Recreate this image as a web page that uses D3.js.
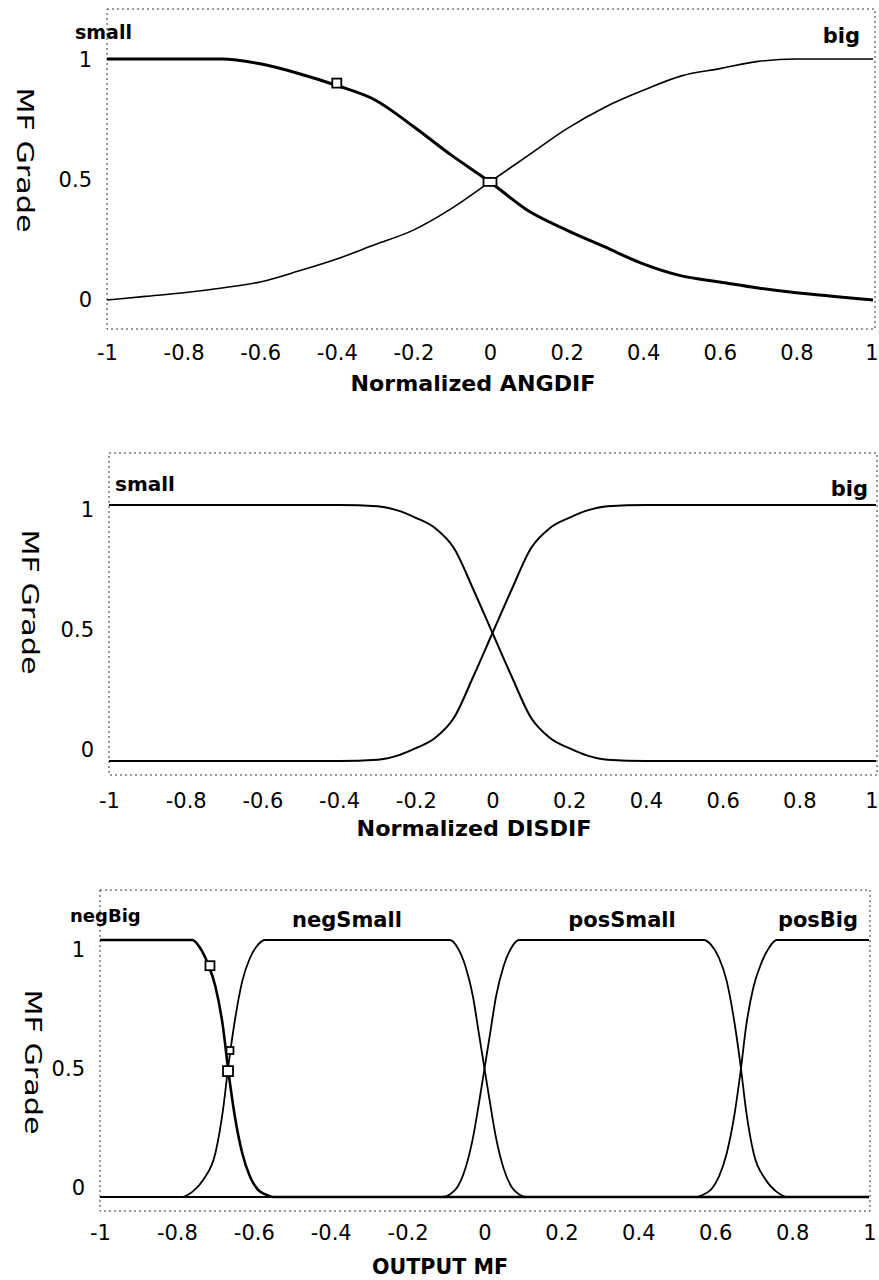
<!DOCTYPE html>
<html>
<head>
<meta charset="utf-8">
<script src="https://cdn.jsdelivr.net/npm/d3@7"></script>
<style>
  body { margin: 0; background: #fff; }
  text { font-family: "DejaVu Sans", Verdana, sans-serif; fill: #000; }
</style>
</head>
<body>
<svg id="vis" width="879" height="1280"></svg>
<script>
// tick values
const x_ticks = [-1, -0.8, -0.6, -0.4, -0.2, 0, 0.2, 0.4, 0.6, 0.8, 1];
const y_ticks = [0, 0.5, 1];

// panel 1 : Normalized ANGDIF
const ang_x     = [-1, -0.9, -0.8, -0.7, -0.6, -0.5, -0.4, -0.3, -0.2, -0.1, 0, 0.1, 0.2, 0.3, 0.4, 0.5, 0.6, 0.7, 0.8, 0.9, 1];
const ang_small = [1, 1, 1, 1, 0.98, 0.94, 0.89, 0.83, 0.72, 0.6, 0.49, 0.37, 0.29, 0.22, 0.15, 0.1, 0.075, 0.05, 0.03, 0.015, 0];
const ang_big   = [0, 0.015, 0.03, 0.05, 0.075, 0.12, 0.17, 0.23, 0.29, 0.38, 0.49, 0.6, 0.71, 0.8, 0.87, 0.93, 0.96, 0.99, 1, 1, 1];
const ang_names = ["small", "big"];
const ang_marks_x = [-0.4, 0];
const ang_marks_y = [0.9, 0.49];

// panel 2 : Normalized DISDIF
const dis_x     = [-1, -0.4, -0.3, -0.25, -0.2, -0.15, -0.1, -0.05, 0, 0.05, 0.1, 0.15, 0.2, 0.25, 0.3, 0.4, 1];
const dis_small = [1, 1, 0.995, 0.98, 0.95, 0.91, 0.83, 0.67, 0.5, 0.33, 0.17, 0.09, 0.05, 0.02, 0.005, 0, 0];
const dis_big   = [0, 0, 0.005, 0.02, 0.05, 0.09, 0.17, 0.33, 0.5, 0.67, 0.83, 0.91, 0.95, 0.98, 0.995, 1, 1];
const dis_names = ["small", "big"];

// panel 3 : OUTPUT MF
const negBig_x   = [-1, -0.76, -0.74, -0.72, -0.70, -0.68, -0.667, -0.65, -0.63, -0.61, -0.59, -0.57, -0.55, 1];
const negBig_y   = [1, 1, 0.97, 0.91, 0.82, 0.66, 0.5, 0.32, 0.17, 0.08, 0.03, 0.01, 0, 0];
const negSmall_x = [-1, -0.79, -0.76, -0.73, -0.70, -0.68, -0.667, -0.65, -0.63, -0.61, -0.59, -0.57, -0.09, -0.07, -0.05, -0.03, -0.015, 0, 0.015, 0.03, 0.05, 0.07, 0.09, 0.11, 1];
const negSmall_y = [0, 0, 0.02, 0.07, 0.17, 0.34, 0.5, 0.68, 0.84, 0.93, 0.98, 1, 1, 0.97, 0.9, 0.78, 0.64, 0.5, 0.36, 0.23, 0.11, 0.04, 0.01, 0, 0];
const posSmall_x = [-1, -0.11, -0.09, -0.07, -0.05, -0.03, -0.015, 0, 0.015, 0.03, 0.05, 0.07, 0.09, 0.57, 0.59, 0.61, 0.63, 0.65, 0.667, 0.68, 0.70, 0.73, 0.76, 0.79, 1];
const posSmall_y = [0, 0, 0.01, 0.04, 0.11, 0.23, 0.36, 0.5, 0.64, 0.78, 0.9, 0.97, 1, 1, 0.98, 0.93, 0.84, 0.68, 0.5, 0.34, 0.17, 0.07, 0.02, 0, 0];
const posBig_x   = [-1, 0.55, 0.57, 0.59, 0.61, 0.63, 0.65, 0.667, 0.68, 0.70, 0.72, 0.74, 0.76, 1];
const posBig_y   = [0, 0, 0.01, 0.03, 0.08, 0.17, 0.32, 0.5, 0.66, 0.82, 0.91, 0.97, 1, 1];
const out_names  = ["negBig", "negSmall", "posSmall", "posBig"];
const out_marks_x = [-0.714, -0.662, -0.667];
const out_marks_y = [0.9, 0.57, 0.49];

const zip = (xs, ys) => xs.map((x, i) => [x, ys[i]]);

// layout of the three panels
const panels = [
    {
        title: "Normalized ANGDIF", titleX: 473, titleY: 391, titleLen: 245,
        xr: [107, 873], yr: [300, 59], labelYr: [300, 60], frame: [107, 9, 875, 329],
        tickY: 358, gradeX: 25, gradeY: 160,
        curves: [
            {pts: zip(ang_x, ang_small), w: 3},
            {pts: zip(ang_x, ang_big), w: 1.6}
        ],
        names: [
            {t: ang_names[0], x: 75, y: 39, a: "start", s: 19},
            {t: ang_names[1], x: 860, y: 43, a: "end", s: 21}
        ],
        marks: zip(ang_marks_x, ang_marks_y), markW: [9, 13], markH: [9, 8]
    },
    {
        title: "Normalized DISDIF", titleX: 474, titleY: 836, titleLen: 235,
        xr: [109, 876], yr: [761, 505], labelYr: [750, 510], frame: [109, 453, 877, 775],
        tickY: 806, gradeX: 30, gradeY: 602,
        curves: [
            {pts: zip(dis_x, dis_small), w: 2},
            {pts: zip(dis_x, dis_big), w: 2}
        ],
        names: [
            {t: dis_names[0], x: 115, y: 491, a: "start", s: 20},
            {t: dis_names[1], x: 868, y: 496, a: "end", s: 21}
        ],
        marks: [], markW: [], markH: []
    },
    {
        title: "OUTPUT MF", titleX: 440, titleY: 1274, titleLen: 136,
        xr: [100, 869], yr: [1197, 940], labelYr: [1188, 950], frame: [100, 890, 870, 1211],
        tickY: 1238, gradeX: 33, gradeY: 1062,
        curves: [
            {pts: zip(negBig_x, negBig_y), w: 2.6},
            {pts: zip(negSmall_x, negSmall_y), w: 1.8},
            {pts: zip(posSmall_x, posSmall_y), w: 1.8},
            {pts: zip(posBig_x, posBig_y), w: 1.8}
        ],
        names: [
            {t: out_names[0], x: 70, y: 922, a: "start", s: 18},
            {t: out_names[1], x: 347, y: 927, a: "middle", s: 21},
            {t: out_names[2], x: 622, y: 927, a: "middle", s: 21},
            {t: out_names[3], x: 818, y: 927, a: "middle", s: 21}
        ],
        marks: zip(out_marks_x, out_marks_y), markW: [9, 7, 10], markH: [9, 7, 10]
    }
];

const svg = d3.select("#vis");

panels.forEach(p => {
    const g = svg.append("g");
    const x = d3.scaleLinear().domain([-1, 1]).range(p.xr);
    const y = d3.scaleLinear().domain([0, 1]).range(p.yr);
    const yLab = d3.scaleLinear().domain([0, 1]).range(p.labelYr);

    // dotted frame
    const f = p.frame;
    g.append("rect")
        .attr("x", f[0]).attr("y", f[1])
        .attr("width", f[2] - f[0]).attr("height", f[3] - f[1])
        .attr("fill", "none")
        .attr("stroke", "#333")
        .attr("stroke-width", 1)
        .attr("stroke-dasharray", "2,3");

    // x tick labels (plain hyphen minus like the original)
    const xa = g.append("g")
        .attr("transform", `translate(0,${p.tickY - 8})`)
        .call(d3.axisBottom(x).tickValues(x_ticks).tickSize(0).tickFormat(d => String(d)));
    xa.select(".domain").remove();
    xa.selectAll("text")
        .attr("font-size", 21)
        .attr("font-family", null)
        .attr("dy", "0.35em")
        .attr("text-anchor", d => d === 1 ? "end" : "middle")
        .attr("dx", d => d === 1 ? Math.min(7, 878 - x(1)) : 0);

    // y tick labels
    const ya = g.append("g")
        .attr("transform", `translate(${f[0] - 12},0)`)
        .call(d3.axisLeft(yLab).tickValues(y_ticks).tickSize(0).tickFormat(d => String(d)));
    ya.select(".domain").remove();
    ya.selectAll("text").attr("font-size", 21).attr("font-family", null);

    // membership function curves
    const line = d3.line().x(d => x(d[0])).y(d => y(d[1])).curve(d3.curveMonotoneX);
    g.selectAll("path.mf").data(p.curves)
        .join("path")
        .attr("class", "mf")
        .attr("d", d => line(d.pts))
        .attr("fill", "none")
        .attr("stroke", "#000")
        .attr("stroke-width", d => d.w)
        .attr("stroke-linejoin", "round");

    // square markers
    g.selectAll("rect.mark").data(p.marks)
        .join("rect")
        .attr("class", "mark")
        .attr("x", (d, i) => x(d[0]) - p.markW[i] / 2)
        .attr("y", (d, i) => y(d[1]) - p.markH[i] / 2)
        .attr("width", (d, i) => p.markW[i])
        .attr("height", (d, i) => p.markH[i])
        .attr("fill", "#fff")
        .attr("stroke", "#000")
        .attr("stroke-width", 1.8);

    // MF names
    g.selectAll("text.name").data(p.names)
        .join("text")
        .attr("class", "name")
        .attr("x", d => d.x).attr("y", d => d.y)
        .attr("text-anchor", d => d.a)
        .attr("font-size", d => d.s)
        .attr("font-weight", "bold")
        .text(d => d.t);

    // axis titles
    g.append("text")
        .attr("x", p.titleX).attr("y", p.titleY)
        .attr("text-anchor", "middle")
        .attr("font-size", 22)
        .attr("font-weight", "bold")
        .attr("textLength", p.titleLen)
        .attr("lengthAdjust", "spacingAndGlyphs")
        .text(p.title);

    g.append("text")
        .attr("transform", `translate(${p.gradeX},${p.gradeY}) rotate(90)`)
        .attr("text-anchor", "middle")
        .attr("dy", "0.35em")
        .attr("font-size", 23)
        .attr("textLength", 145)
        .attr("lengthAdjust", "spacingAndGlyphs")
        .text("MF Grade");
});
</script>
</body>
</html>
